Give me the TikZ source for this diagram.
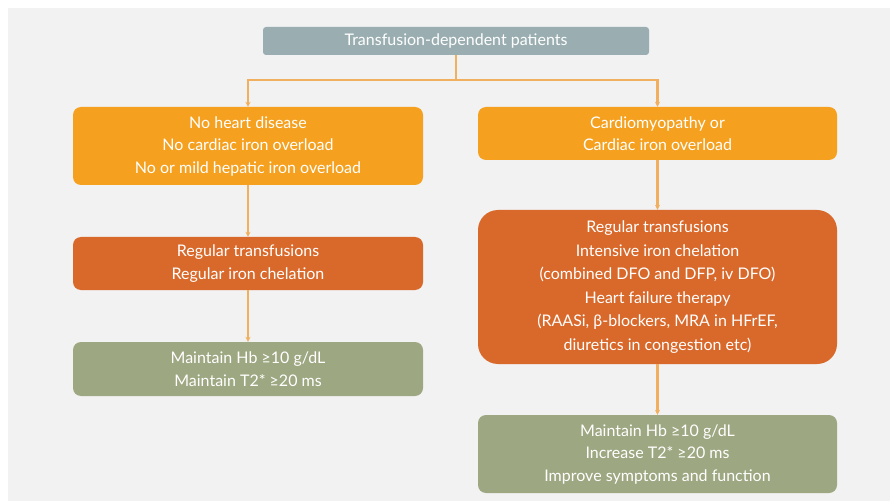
\documentclass[tikz,border=0pt]{standalone}
\usepackage{fontspec}
\setmainfont{Lato}
\usetikzlibrary{arrows.meta}
\definecolor{bgc}{HTML}{F2F2F2}
\definecolor{topc}{HTML}{9AAEB2}
\definecolor{orc}{HTML}{F5A11F}
\definecolor{dorc}{HTML}{D9692B}
\definecolor{grc}{HTML}{9DA781}
\definecolor{linec}{HTML}{F0B060}
\tikzset{
  box/.style={rectangle, rounded corners=8pt, text=white, align=center, inner sep=0pt,
    font=\fontsize{16}{22.5}\selectfont},
  topbox/.style={box, fill=topc, rounded corners=3pt, minimum width=386pt, minimum height=28pt},
  obox/.style={box, fill=orc},
  dbox/.style={box, fill=dorc},
  gbox/.style={box, fill=grc},
  conn/.style={draw=linec, line width=2.2pt},
  arr/.style={conn, -{Stealth[length=5pt,width=5pt]}},
}
\begin{document}
\begin{tikzpicture}[x=1pt,y=-1pt]
\useasboundingbox (0,0) rectangle (890,502);
\fill[white] (0,0) rectangle (890,502);
\fill[bgc] (8,8) rectangle (890,501);
\node[topbox] (top) at (456,41) {Transfusion-dependent patients};
\node[obox, minimum width=350pt, minimum height=78pt] (l1) at (248,146)
  {No heart disease\\No cardiac iron overload\\No or mild hepatic iron overload};
\node[obox, minimum width=359pt, minimum height=53pt] (r1) at (657.5,133.5)
  {Cardiomyopathy or\\Cardiac iron overload};
\node[dbox, minimum width=350pt, minimum height=53pt] (l2) at (248,263.5)
  {Regular transfusions\\Regular iron chelation};
\node[dbox, rounded corners=20pt, minimum width=359pt, minimum height=154pt,
  font=\fontsize{16}{23.5}\selectfont] (r2) at (657.5,287)
  {Regular transfusions\\Intensive iron chelation\\(combined DFO and DFP, iv DFO)\\Heart failure therapy\\(RAASi, β-blockers, MRA in HFrEF,\\diuretics in congestion etc)};
\node[gbox, minimum width=350pt, minimum height=54pt] (l3) at (248,369)
  {Maintain Hb ≥10 g/dL\\Maintain T2* ≥20 ms};
\node[gbox, minimum width=359pt, minimum height=78pt] (r3) at (657.5,454)
  {Maintain Hb ≥10 g/dL\\Increase T2* ≥20 ms\\Improve symptoms and function};
\coordinate (j) at (456,80);
\draw[conn] (top.south) -- (j);
\draw[arr] (j) -| (l1.north);
\draw[arr] (j) -| (r1.north);
\draw[arr] (l1) -- (l2);
\draw[arr] (l2) -- (l3);
\draw[arr] (r1) -- (r2);
\draw[arr] (r2) -- (r3);
\end{tikzpicture}
\end{document}
